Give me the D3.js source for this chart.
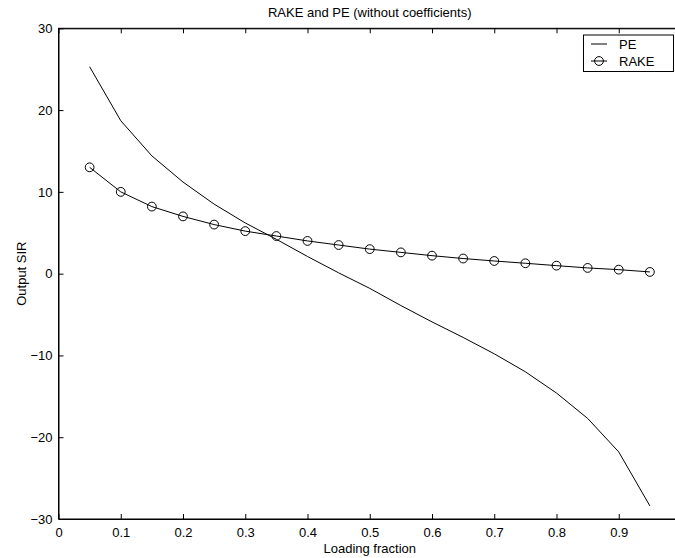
<!DOCTYPE html>
<html>
<head>
<meta charset="utf-8">
<script src="https://cdn.jsdelivr.net/npm/d3@7"></script>
<style>
  body { margin: 0; background: #fff; }
  text { font-family: "Liberation Sans", Arial, Helvetica, sans-serif; }
</style>
</head>
<body>
<svg id="chart" width="675" height="558"></svg>
<script>
const loading = [0.05,0.10,0.15,0.20,0.25,0.30,0.35,0.40,0.45,0.50,0.55,0.60,0.65,0.70,0.75,0.80,0.85,0.90,0.95];
const peValues = [25.3,18.7,14.4,11.2,8.5,6.2,4.2,2.1,0.1,-1.8,-3.9,-5.9,-7.8,-9.8,-12.0,-14.6,-17.7,-21.8,-28.4];
const rakeValues = [13.0,10.0,8.2,7.0,6.0,5.2,4.6,4.0,3.5,3.0,2.6,2.2,1.85,1.55,1.27,0.98,0.7,0.49,0.21];
const xTicks = [0,0.1,0.2,0.3,0.4,0.5,0.6,0.7,0.8,0.9];
const yTicks = [-30,-20,-10,0,10,20,30];
const seriesNames = ["PE","RAKE"];
const titleText = "RAKE and PE (without coefficients)";
const xLabel = "Loading fraction";
const yLabel = "Output SIR";

const svg = d3.select("#chart");
const mLeft = 58.5, mRight = 681, mTop = 28.3, mBottom = 519;
const x = d3.scaleLinear().domain([0,1]).range([mLeft,mRight]);
const y = d3.scaleLinear().domain([-30,30]).range([mBottom,mTop]);
const fmtY = d => d < 0 ? "\u2212" + Math.abs(d) : String(d);

// frame
svg.append("rect").attr("x",mLeft).attr("y",mTop).attr("width",mRight-mLeft).attr("height",mBottom-mTop)
  .attr("fill","none").attr("stroke","#000").attr("stroke-width",1);

// axes (inward ticks)
const xAxisB = svg.append("g").attr("transform",`translate(0,${mBottom})`)
  .call(d3.axisBottom(x).tickValues(xTicks).tickSize(-5).tickPadding(9).tickFormat(d=>d===0?"0":d3.format("")(d)));
const xAxisT = svg.append("g").attr("transform",`translate(0,${mTop})`)
  .call(d3.axisTop(x).tickValues(xTicks).tickSize(-5).tickFormat(""));
const yAxisL = svg.append("g").attr("transform",`translate(${mLeft},0)`)
  .call(d3.axisLeft(y).tickValues(yTicks).tickSize(-5).tickPadding(6).tickFormat(fmtY));
const yAxisR = svg.append("g").attr("transform",`translate(${mRight},0)`)
  .call(d3.axisRight(y).tickValues(yTicks).tickSize(-5).tickFormat(""));
[xAxisB,xAxisT,yAxisL,yAxisR].forEach(g=>{
  g.select(".domain").attr("stroke","#000");
  g.selectAll(".tick line").attr("stroke","#000");
  g.selectAll(".tick text").attr("font-size",13).attr("fill","#000")
    .attr("font-family","'Liberation Sans', Arial, sans-serif");
});
xAxisB.selectAll(".tick text").attr("dy","0.71em");
xAxisB.selectAll(".tick line").filter(d=>d===0).remove();
xAxisT.selectAll(".tick line").filter(d=>d===0).remove();
yAxisL.selectAll(".tick line").filter(d=>d===-30||d===30).remove();
yAxisR.selectAll(".tick line").filter(d=>d===-30||d===30).remove();

const line = d3.line().x(d=>x(d[0])).y(d=>y(d[1]));
const peData = loading.map((l,i)=>[l,peValues[i]]);
const rakeData = loading.map((l,i)=>[l,rakeValues[i]]);

svg.append("path").datum(peData).attr("d",line).attr("fill","none").attr("stroke","#000").attr("stroke-width",1);
svg.append("path").datum(rakeData).attr("d",line).attr("fill","none").attr("stroke","#000").attr("stroke-width",1);
svg.append("g").selectAll("circle").data(rakeData).join("circle")
  .attr("cx",d=>x(d[0])).attr("cy",d=>y(d[1])).attr("r",4.4)
  .attr("fill","none").attr("stroke","#000").attr("stroke-width",1);

// title & labels
svg.append("text").attr("x",(mLeft+mRight)/2).attr("y",17).attr("text-anchor","middle")
  .attr("font-size",13).text(titleText);
svg.append("text").attr("x",(mLeft+mRight)/2).attr("y",553).attr("text-anchor","middle")
  .attr("font-size",13).text(xLabel);
svg.append("text").attr("transform",`translate(26,${y(0)}) rotate(-90)`).attr("text-anchor","middle")
  .attr("font-size",13).text(yLabel);

// legend
const lg = svg.append("g");
lg.append("rect").attr("x",583.5).attr("y",35).attr("width",90).attr("height",36.5)
  .attr("fill","#fff").attr("stroke","#000").attr("stroke-width",1);
const rows = [{name:seriesNames[0],y:44,marker:false},{name:seriesNames[1],y:61,marker:true}];
rows.forEach(r=>{
  lg.append("line").attr("x1",591).attr("x2",607).attr("y1",r.y).attr("y2",r.y).attr("stroke","#000");
  if(r.marker) lg.append("circle").attr("cx",599).attr("cy",r.y).attr("r",4.4).attr("fill","none").attr("stroke","#000");
  lg.append("text").attr("x",619).attr("y",r.y).attr("dy","0.36em").attr("font-size",13).text(r.name);
});
</script>
</body>
</html>
